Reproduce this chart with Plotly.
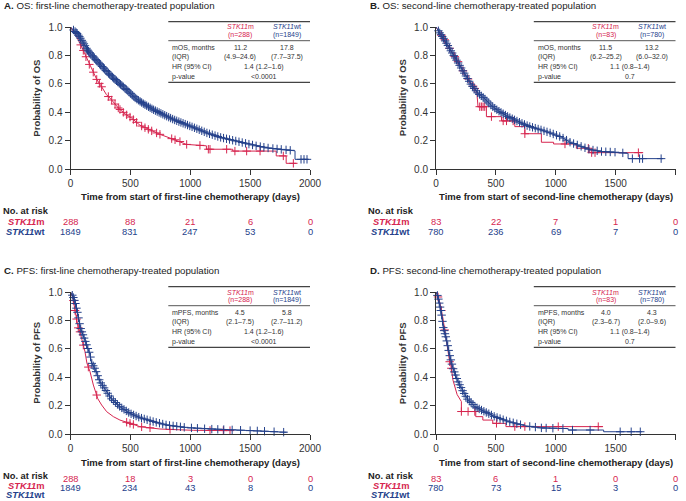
import numpy as np
import plotly.graph_objects as go

W, H = 686, 501
RED = "#d6254f"
BLUE = "#24418b"
INK = "#333333"
FONT = "Liberation Sans, Arial, Helvetica, sans-serif"

x_tick_vals = [0, 500, 1000, 1500, 2000]
y_tick_vals = [0.0, 0.2, 0.4, 0.6, 0.8, 1.0]

panel_letters = ["A.", "B.", "C.", "D."]
panel_titles = [
    "OS: first-line chemotherapy-treated population",
    "OS: second-line chemotherapy-treated population",
    "PFS: first-line chemotherapy-treated population",
    "PFS: second-line chemotherapy-treated population",
]
x_titles = [
    "Time from start of first-line chemotherapy (days)",
    "Time from start of second-line chemotherapy (days)",
    "Time from start of first-line chemotherapy (days)",
    "Time from start of second-line chemotherapy (days)",
]
y_titles = ["Probability of OS", "Probability of OS", "Probability of PFS", "Probability of PFS"]

# ---------- Panel A: OS, first line ----------
a_m_t = [0, 40, 79, 110, 149, 180, 220, 260, 300, 341, 400, 455, 510, 580, 664, 749, 830, 914,
         968, 1135, 1135, 1355, 1355, 1718, 1718, 1801, 1801, 1885]
a_m_s = [1.0, 0.95, 0.885, 0.83, 0.75, 0.70, 0.63, 0.58, 0.525, 0.49, 0.43, 0.39, 0.36, 0.31, 0.275,
         0.245, 0.22, 0.195, 0.175, 0.165, 0.141, 0.141, 0.128, 0.128, 0.094, 0.094, 0.042, 0.042]
a_m_cens = [85, 107, 129, 157, 190, 219, 241, 260, 316, 344, 372, 399, 413, 441, 469, 497, 525, 552,
            594, 622, 650, 678, 719, 747, 845, 873, 914, 970, 1081, 1151, 1165, 1304, 1373, 1471,
            1583, 1777, 1861]
a_wt_t = [0, 30, 60, 100, 140, 190, 234, 300, 360, 420, 480, 542, 610, 690, 775, 860, 950, 1040,
          1141, 1250, 1350, 1450, 1550, 1650, 1760, 1875, 1875, 1990]
a_wt_s = [1.0, 0.975, 0.95, 0.90, 0.84, 0.79, 0.75, 0.69, 0.64, 0.595, 0.55, 0.50, 0.46, 0.42, 0.385,
          0.35, 0.32, 0.29, 0.255, 0.225, 0.205, 0.185, 0.165, 0.15, 0.14, 0.13, 0.07, 0.07]
a_wt_cens = [25, 38, 47, 55, 66, 74, 83, 95, 104, 112, 121, 133, 142, 150, 161, 170, 182, 190, 199,
             211, 220, 231, 243, 252, 264, 275, 283, 296, 305, 318, 327, 339, 350, 361, 372, 384,
             395, 407, 418, 430, 441, 455, 466, 479, 490, 503, 516, 529, 540, 554, 567, 581, 594,
             608, 622, 636, 651, 665, 680, 694, 709, 724, 740, 755, 771, 787, 803, 820, 836, 853,
             870, 887, 905, 922, 940, 958, 977, 996, 1015, 1035, 1055, 1075, 1096, 1117, 1139,
             1161, 1184, 1207, 1230, 1254, 1278, 1303, 1328, 1354, 1380, 1407, 1434, 1462, 1490,
             1520, 1550, 1585, 1615, 1650, 1690, 1725, 1760, 1800, 1835, 1925, 1950, 1975]
a_risk_m = [288, 88, 21, 6, 0]
a_risk_wt = [1849, 831, 247, 53, 0]

# ---------- Panel B: OS, second line ----------
b_m_t = [0, 30, 73, 128, 189, 240, 296, 340, 351, 421, 421, 547, 547, 658, 658, 742, 742, 880, 880,
         982, 982, 1172, 1172, 1284, 1284, 1730]
b_m_s = [1.0, 0.96, 0.91, 0.83, 0.75, 0.67, 0.60, 0.55, 0.44, 0.44, 0.37, 0.37, 0.34, 0.34, 0.30,
         0.30, 0.25, 0.25, 0.19, 0.19, 0.178, 0.178, 0.148, 0.148, 0.117, 0.117]
b_m_cens = [45, 73, 114, 156, 184, 226, 268, 310, 324, 365, 379, 393, 407, 463, 561, 589, 644, 742,
            1077, 1272, 1300, 1328, 1690]
b_wt_t = [0, 30, 73, 128, 183, 240, 296, 351, 402, 463, 519, 602, 686, 770, 881, 974, 1050, 1120,
          1200, 1280, 1380, 1500, 1604, 1604, 1897]
b_wt_s = [1.0, 0.96, 0.908, 0.827, 0.75, 0.67, 0.592, 0.534, 0.50, 0.447, 0.412, 0.37, 0.335, 0.304,
          0.276, 0.25, 0.225, 0.19, 0.165, 0.14, 0.125, 0.12, 0.112, 0.075, 0.075]
b_wt_cens = [20, 31, 42, 52, 63, 77, 88, 99, 112, 124, 135, 148, 160, 171, 185, 197, 210, 224, 236,
             250, 263, 277, 291, 305, 318, 334, 348, 363, 378, 394, 409, 425, 441, 458, 474, 491,
             508, 526, 543, 561, 580, 598, 617, 637, 656, 676, 697, 718, 739, 761, 783, 806, 829,
             853, 877, 902, 927, 953, 979, 1006, 1033, 1061, 1090, 1119, 1149, 1180, 1212, 1244,
             1277, 1311, 1346, 1382, 1418, 1455, 1495, 1560, 1640, 1700, 1725, 1880]
b_risk_m = [83, 22, 7, 1, 0]
b_risk_wt = [780, 236, 69, 7, 0]

# ---------- Panel C: PFS, first line ----------
c_m_t = [0, 20, 38, 64, 79, 121, 137, 163, 191, 219, 228, 260, 302, 358, 413, 497, 580, 747, 1026, 1304]
c_m_s = [1.0, 0.96, 0.87, 0.75, 0.72, 0.58, 0.50, 0.44, 0.346, 0.276, 0.25, 0.206, 0.159, 0.124,
         0.10, 0.077, 0.054, 0.037, 0.028, 0.026]
c_m_cens = [24, 38, 51, 65, 79, 107, 149, 219, 469, 497, 525, 594, 664, 831, 1165, 1276, 1332]
c_wt_t = [0, 20, 38, 60, 82, 121, 163, 177, 205, 246, 302, 341, 413, 497, 580, 692, 803, 970, 1165,
          1443, 1583, 1805]
c_wt_s = [1.0, 0.97, 0.93, 0.85, 0.75, 0.66, 0.56, 0.50, 0.46, 0.37, 0.30, 0.25, 0.194, 0.147, 0.117,
          0.089, 0.065, 0.047, 0.037, 0.028, 0.023, 0.014]
c_wt_cens = [15, 24, 33, 41, 50, 58, 67, 76, 85, 95, 104, 114, 124, 134, 145, 156, 167, 178, 190,
             202, 214, 227, 240, 253, 267, 281, 296, 311, 326, 342, 358, 375, 392, 410, 428, 447,
             466, 486, 506, 527, 548, 570, 593, 616, 640, 665, 690, 716, 743, 770, 798, 827, 857,
             887, 918, 950, 1010, 1060, 1120, 1180, 1230, 1280, 1350, 1420, 1500, 1560, 1620,
             1700, 1780]
c_risk_m = [288, 18, 3, 0, 0]
c_risk_wt = [1849, 234, 43, 8, 0]

# ---------- Panel D: PFS, second line ----------
d_m_t = [0, 15, 31, 59, 70, 86, 114, 122, 142, 176, 198, 212, 212, 332, 332, 391, 391, 474, 474,
         584, 584, 1395]
d_m_s = [1.0, 0.97, 0.93, 0.81, 0.75, 0.66, 0.51, 0.50, 0.38, 0.28, 0.25, 0.23, 0.16, 0.16, 0.124,
         0.124, 0.10, 0.10, 0.077, 0.077, 0.054, 0.054]
d_m_cens = [17, 45, 73, 114, 128, 212, 268, 324, 505, 658, 742, 1021, 1355]
d_wt_t = [0, 15, 31, 45, 61, 86, 114, 131, 142, 184, 226, 268, 292, 324, 407, 491, 602, 742, 881,
          1104, 1104, 1400, 1400, 1718]
d_wt_s = [1.0, 0.97, 0.906, 0.85, 0.75, 0.673, 0.556, 0.50, 0.463, 0.37, 0.30, 0.24, 0.225, 0.194,
          0.159, 0.124, 0.09, 0.06, 0.045, 0.04, 0.03, 0.03, 0.018, 0.018]
d_wt_cens = [12, 20, 27, 34, 40, 47, 54, 61, 68, 75, 82, 90, 98, 106, 115, 124, 133, 143, 153, 163,
             174, 185, 197, 209, 222, 235, 249, 263, 278, 293, 309, 326, 343, 361, 380, 400, 420,
             441, 463, 486, 510, 535, 561, 588, 616, 645, 675, 706, 783, 830, 880, 920, 976, 1060,
             1140, 1287, 1538, 1630, 1706]
d_risk_m = [83, 6, 1, 0, 0]
d_risk_wt = [780, 73, 15, 3, 0]

# ---------- in-panel tables ----------
metric_labels = ["mOS, months", "mOS, months", "mPFS, months", "mPFS, months"]
n_m = [288, 83, 288, 83]
n_wt = [1849, 780, 1849, 780]
median_m = ["11.2", "11.5", "4.5", "4.0"]
median_wt = ["17.8", "13.2", "5.8", "4.3"]
iqr_m = ["(4.9–24.6)", "(6.2–25.2)", "(2.1–7.5)", "(2.3–6.7)"]
iqr_wt = ["(7.7–37.5)", "(6.0–32.0)", "(2.7–11.2)", "(2.0–9.6)"]
hr_ci = ["1.4 (1.2–1.6)", "1.1 (0.8–1.4)", "1.4 (1.2–1.6)", "1.1 (0.8–1.4)"]
p_values = ["&lt;0.0001", "0.7", "&lt;0.0001", "0.7"]

curves = [
    (a_m_t, a_m_s, a_m_cens, a_wt_t, a_wt_s, a_wt_cens, a_risk_m, a_risk_wt),
    (b_m_t, b_m_s, b_m_cens, b_wt_t, b_wt_s, b_wt_cens, b_risk_m, b_risk_wt),
    (c_m_t, c_m_s, c_m_cens, c_wt_t, c_wt_s, c_wt_cens, c_risk_m, c_risk_wt),
    (d_m_t, d_m_s, d_m_cens, d_wt_t, d_wt_s, d_wt_cens, d_risk_m, d_risk_wt),
]

# layout geometry (pixels)
COL_DX = [0.0, 365.5]
ROW_DY = [0.0, 265.0]
PX0, PX1 = 70.5, 310.0
PY_TOP, PY_BOT = 27.0, 169.3
# risk-table row positions (No. at risk, mutant, wild type) per panel row
RISK_ROWS = [(211.0, 222.0, 232.5), (475.5, 485.5, 495.0)]
RISK_FS = 9.3


def fx(px):
    return px / W


def fy(py):
    return 1 - py / H


fig = go.Figure()
annotations = []
shapes = []


def txt(x, y, text, size, color=INK, xanchor="center", yanchor="middle", angle=0, xref="paper"):
    annotations.append(dict(
        x=x, y=y, xref=xref, yref="paper", text=text, showarrow=False,
        xanchor=xanchor, yanchor=yanchor, textangle=angle,
        font=dict(family=FONT, size=size, color=color)))


for i, (m_t, m_s, m_c, w_t, w_s, w_c, r_m, r_w) in enumerate(curves):
    col, row = i % 2, i // 2
    dx, dy = COL_DX[col], ROW_DY[row]
    sfx = "" if i == 0 else str(i + 1)
    xa, ya = "x" + sfx, "y" + sfx

    for t, s, c, color in ((m_t, m_s, m_c, RED), (w_t, w_s, w_c, BLUE)):
        fig.add_trace(go.Scatter(
            x=t, y=s, mode="lines", line=dict(color=color, width=1),
            xaxis=xa, yaxis=ya, showlegend=False, hoverinfo="skip", cliponaxis=False))
        fig.add_trace(go.Scatter(
            x=c, y=np.interp(c, t, s), mode="markers",
            marker=dict(symbol="cross-thin", size=6, color=color, line=dict(color=color, width=1)),
            xaxis=xa, yaxis=ya, showlegend=False, hoverinfo="skip", cliponaxis=False))

    axis_common = dict(
        showline=True, linecolor=INK, linewidth=1, ticks="outside", ticklen=5, tickwidth=1,
        tickcolor=INK, showgrid=False, zeroline=False, automargin=False,
        tickfont=dict(family=FONT, size=10, color=INK), fixedrange=True)
    fig.layout["xaxis" + sfx] = dict(
        domain=[fx(PX0 + dx), fx(PX1 + dx)], range=[0, 2000], anchor=ya,
        tickvals=x_tick_vals, **axis_common)
    fig.layout["yaxis" + sfx] = dict(
        domain=[fy(PY_BOT + dy), fy(PY_TOP + dy)], range=[0, 1], anchor=xa,
        tickvals=y_tick_vals, tickformat=".1f", **axis_common)

    # panel title
    txt(fx(2 + dx), fy(5 + dy), f"<b>{panel_letters[i]}</b> {panel_titles[i]}", 9.7,
        color="#222222", xanchor="left")
    # axis titles
    txt(fx(36.5 + dx), fy((PY_TOP + PY_BOT) / 2 + dy), f"<b>{y_titles[i]}</b>", 9.5, angle=-90)
    txt(fx((PX0 + PX1) / 2 + dx), fy(197 + dy), f"<b>{x_titles[i]}</b>", 9.5, color="#222222")

    # risk table
    ry0, ry1, ry2 = RISK_ROWS[row]
    txt(fx(0.5 + dx), fy(ry0), "<b>No. at risk</b>", RISK_FS, color="#222222", xanchor="left")
    txt(fx(46.5 + dx), fy(ry1), "<b><i>STK11</i>m</b>", RISK_FS, color=RED, xanchor="right")
    txt(fx(46.5 + dx), fy(ry2), "<b><i>STK11</i>wt</b>", RISK_FS, color=BLUE, xanchor="right")
    for tv, vm, vw in zip(x_tick_vals, r_m, r_w):
        annotations.append(dict(x=tv, xref=xa, y=fy(ry1), yref="paper", text=str(vm),
                                showarrow=False, font=dict(family=FONT, size=RISK_FS, color=RED)))
        annotations.append(dict(x=tv, xref=xa, y=fy(ry2), yref="paper", text=str(vw),
                                showarrow=False, font=dict(family=FONT, size=RISK_FS, color=BLUE)))

    # summary table inside plot
    TL, TR = 168.3 + dx, 310.0 + dx
    C1, C2, CH, LX = 240.0 + dx, 286.7 + dx, 264.0 + dx, 170.0 + dx
    for yy, wdt in ((21.7, 1.3), (40.7, 0.9), (82.3, 1.3)):
        shapes.append(dict(type="line", xref="paper", yref="paper",
                           x0=fx(TL), x1=fx(TR), y0=fy(yy + dy), y1=fy(yy + dy),
                           line=dict(color="#444444", width=wdt)))
    ts = 7
    txt(fx(C1), fy(27.0 + dy), "<i>STK11</i>m", ts, color=RED)
    txt(fx(C1), fy(35.0 + dy), f"(n={n_m[i]})", ts, color=RED)
    txt(fx(C2), fy(27.0 + dy), "<i>STK11</i>wt", ts, color=BLUE)
    txt(fx(C2), fy(35.0 + dy), f"(n={n_wt[i]})", ts, color=BLUE)
    txt(fx(LX), fy(47.3 + dy), metric_labels[i], ts, xanchor="left")
    txt(fx(LX), fy(57.3 + dy), "(IQR)", ts, xanchor="left")
    txt(fx(LX), fy(67.0 + dy), "HR (95% CI)", ts, xanchor="left")
    txt(fx(LX), fy(76.7 + dy), "p-value", ts, xanchor="left")
    txt(fx(C1), fy(47.3 + dy), median_m[i], ts)
    txt(fx(C2), fy(47.3 + dy), median_wt[i], ts)
    txt(fx(C1), fy(57.3 + dy), iqr_m[i], ts)
    txt(fx(C2), fy(57.3 + dy), iqr_wt[i], ts)
    txt(fx(CH), fy(67.0 + dy), hr_ci[i], ts)
    txt(fx(CH), fy(76.7 + dy), p_values[i], ts)

fig.update_layout(
    width=W, height=H, margin=dict(l=0, r=0, t=0, b=0, autoexpand=False),
    paper_bgcolor="white", plot_bgcolor="white",
    font=dict(family=FONT, color=INK),
    annotations=annotations, shapes=shapes, showlegend=False,
)

fig.write_html(
    "out.html",
    config={"displayModeBar": False, "staticPlot": True},
    post_script="document.body.style.margin='0';",
)
